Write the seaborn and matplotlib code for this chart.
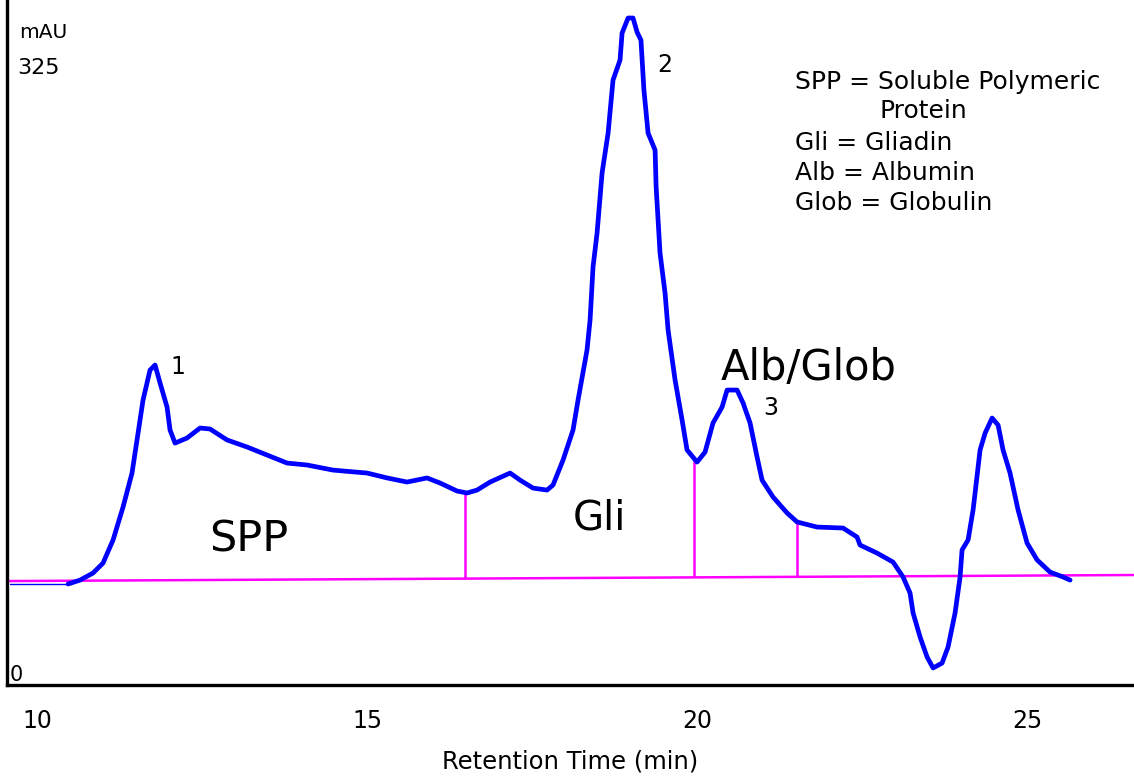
import numpy as np
import pandas as pd
import matplotlib
matplotlib.use("Agg")
import matplotlib.pyplot as plt
import seaborn as sns

# ---- data ----
lead_time = [9.59, 10.47]
lead_mau = [51.6, 51.6]

trace_time = [10.47, 10.652, 10.848, 11.0, 11.152, 11.303, 11.439, 11.515, 11.606, 11.712,
              11.788, 11.864, 11.970, 12.015, 12.091, 12.273, 12.470, 12.621, 12.879, 13.182,
              13.485, 13.788, 14.091, 14.485, 15.0, 15.303, 15.606, 15.909, 16.106, 16.364,
              16.515, 16.667, 16.864, 17.167, 17.318, 17.515, 17.727, 17.818, 17.970, 18.121,
              18.197, 18.333, 18.379, 18.424, 18.485, 18.561, 18.652, 18.727, 18.833, 18.864,
              18.955, 19.030, 19.091, 19.150, 19.195, 19.258, 19.364, 19.380, 19.439, 19.515,
              19.561, 19.667, 19.773, 19.848, 20.0, 20.121, 20.242, 20.379, 20.455, 20.606,
              20.697, 20.803, 20.909, 20.985, 21.152, 21.364, 21.515, 21.818, 22.212, 22.424,
              22.470, 22.727, 22.970, 23.121, 23.227, 23.273, 23.379, 23.485, 23.576, 23.712,
              23.803, 23.909, 23.985, 24.015, 24.106, 24.182, 24.258, 24.288, 24.364, 24.470,
              24.561, 24.636, 24.742, 24.864, 25.0, 25.152, 25.348, 25.545, 25.652]
trace_mau = [51.6, 53.6, 57.2, 62.3, 74.1, 90.9, 108.3, 125.2, 145.6, 160.9,
             163.5, 154.3, 142.0, 130.3, 123.6, 126.2, 131.3, 130.8, 125.2, 121.6,
             117.5, 113.4, 112.4, 109.8, 108.3, 105.8, 103.7, 105.8, 103.2, 99.1,
             98.1, 99.6, 103.7, 108.3, 104.7, 100.6, 99.6, 102.2, 115.0, 130.3,
             145.6, 171.2, 186.5, 213.6, 230.9, 261.6, 282.0, 309.1, 319.3, 333.1,
             340.8, 340.8, 333.6, 329.5, 304.0, 282.0, 273.3, 254.4, 220.7, 200.3,
             181.4, 155.8, 135.4, 120.1, 113.9, 119.0, 133.9, 142.0, 150.7, 150.7,
             144.1, 133.9, 116.5, 104.7, 96.0, 87.9, 83.3, 80.7, 80.2, 75.6,
             71.5, 67.4, 62.8, 55.2, 47.0, 36.8, 24.5, 14.3, 8.7, 11.2,
             19.4, 36.8, 55.2, 69.0, 74.1, 89.4, 111.4, 120.1, 128.7, 136.4,
             132.8, 120.1, 108.3, 89.4, 72.5, 63.9, 57.7, 55.2, 53.6]

baseline_time = [9.545, 26.62]
baseline_mau = [53.1, 56.2]

divider_time = [16.485, 19.955, 21.515]

x_ticks = [10, 15, 20, 25]
x_tick_labels = ["10", "15", "20", "25"]
y_labels = ["0", "325"]

peak_labels = ["1", "2", "3"]
region_labels = ["SPP", "Gli", "Alb/Glob"]
key_lines = ["SPP = Soluble Polymeric", "Protein", "Gli = Gliadin", "Alb = Albumin", "Glob = Globulin"]

# ---- figure ----
sns.set_theme(style="white")
plt.rcParams["font.family"] = ["DejaVu Sans"]

W, H = 1134, 780
fig = plt.figure(figsize=(W / 100, H / 100), dpi=100)
ax_l, ax_b, ax_w, ax_h = 7, 95, 1127, 685
ax = fig.add_axes([ax_l / W, ax_b / H, ax_w / W, ax_h / H])

BLUE = "#0000FF"
MAG = "#FF00FF"

df_trace = pd.DataFrame({"t": trace_time, "v": trace_mau})
df_lead = pd.DataFrame({"t": lead_time, "v": lead_mau})
df_base = pd.DataFrame({"t": baseline_time, "v": baseline_mau})

sns.lineplot(data=df_base, x="t", y="v", ax=ax, color=MAG, lw=1.8, sort=False, estimator=None, zorder=2)
sns.lineplot(data=df_lead, x="t", y="v", ax=ax, color=BLUE, lw=1.0, sort=False, estimator=None, zorder=3)
sns.lineplot(data=df_trace, x="t", y="v", ax=ax, color=BLUE, lw=3.4, sort=False, estimator=None, zorder=4,
             solid_joinstyle="round", solid_capstyle="round")

# drop lines from baseline to trace
for dt in divider_time:
    b = np.interp(dt, baseline_time, baseline_mau)
    top = np.interp(dt, trace_time, trace_mau)
    ax.vlines(dt, b, top, color=MAG, lw=1.8, zorder=2)

ax.set_xlim(9.545, 26.62)
ax.set_ylim(0, 350)

for s in ["top", "right"]:
    ax.spines[s].set_visible(False)
for s in ["left", "bottom"]:
    ax.spines[s].set_color("black")
    ax.spines[s].set_linewidth(2.4)

ax.set_xticks(x_ticks)
ax.set_xticklabels(x_tick_labels, fontsize=17)
ax.tick_params(axis="x", length=0, pad=17, colors="black")
ax.set_yticks([])
ax.set_xlabel("Retention Time (min)", fontsize=17.5, labelpad=12, color="black")
ax.set_ylabel("")


def P(px, py):
    return ((px - ax_l) / ax_w, (ax_h - py) / ax_h)


def txt(px, py, s, size, ha="center", va="center"):
    ax.text(*P(px, py), s, transform=ax.transAxes, fontsize=size, ha=ha, va=va, color="black")


txt(19, 33, "mAU", 14.5, ha="left")
txt(17, 68, y_labels[1], 16, ha="left")
txt(10, 675, y_labels[0], 15, ha="left")

txt(178, 367, peak_labels[0], 17)
txt(665, 65, peak_labels[1], 17)
txt(771, 408, peak_labels[2], 17)

txt(249, 540, region_labels[0], 31)
txt(599, 519, region_labels[1], 29)
txt(809, 368, region_labels[2], 30)

key_pos = [(795, 82), (880, 111), (795, 143), (795, 173), (795, 203)]
for (kx, ky), s in zip(key_pos, key_lines):
    txt(kx, ky, s, 18, ha="left")

fig.savefig("out.png", dpi=100)
